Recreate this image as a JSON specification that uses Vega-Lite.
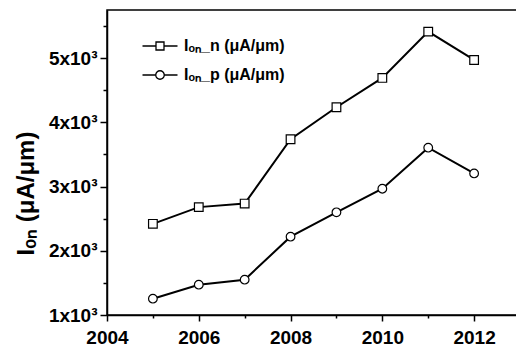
{
  "$schema": "https://vega.github.io/schema/vega-lite/v6.json",
  "width": 413,
  "height": 305,
  "autosize": {"type": "none"},
  "padding": {"left": 107, "top": 10, "right": 0, "bottom": 34},
  "background": "white",
  "config": {
    "font": "Liberation Sans",
    "view": {"stroke": "black", "strokeWidth": 1.5}
  },
  "data": {
    "values": [
      {"year": 2005, "series": "n", "value": 2420},
      {"year": 2006, "series": "n", "value": 2680},
      {"year": 2007, "series": "n", "value": 2735},
      {"year": 2008, "series": "n", "value": 3737},
      {"year": 2009, "series": "n", "value": 4235},
      {"year": 2010, "series": "n", "value": 4692},
      {"year": 2011, "series": "n", "value": 5413},
      {"year": 2012, "series": "n", "value": 4972},
      {"year": 2005, "series": "p", "value": 1254},
      {"year": 2006, "series": "p", "value": 1472},
      {"year": 2007, "series": "p", "value": 1550},
      {"year": 2008, "series": "p", "value": 2220},
      {"year": 2009, "series": "p", "value": 2599},
      {"year": 2010, "series": "p", "value": 2967},
      {"year": 2011, "series": "p", "value": 3606},
      {"year": 2012, "series": "p", "value": 3205}
    ]
  },
  "encoding": {
    "x": {
      "field": "year",
      "type": "quantitative",
      "scale": {"domain": [2004, 2013], "nice": false, "zero": false},
      "axis": {
        "title": null,
        "grid": false,
        "values": [2004, 2005, 2006, 2007, 2008, 2009, 2010, 2011, 2012, 2013],
        "labelExpr": "datum.value % 2 == 0 ? datum.value : ''",
        "labelFlush": false,
        "labelFont": "Liberation Sans",
        "labelFontSize": 19,
        "labelFontWeight": "bold",
        "labelColor": "black",
        "labelPadding": 7,
        "domainColor": "black",
        "domainWidth": 1.5,
        "tickColor": "black",
        "tickWidth": 1.5,
        "tickSize": {"condition": {"test": "datum.value % 2 == 0", "value": 6}, "value": 3}
      }
    },
    "y": {
      "field": "value",
      "type": "quantitative",
      "scale": {"domain": [1000, 5750], "nice": false, "zero": false},
      "axis": {
        "title": "Iₒₙ (μA/μm)",
        "titleFont": "Liberation Sans",
        "titleFontSize": 24,
        "titleFontWeight": "bold",
        "titleColor": "black",
        "titleX": -74,
        "titleY": 183,
        "titleAlign": "center",
        "titleBaseline": "alphabetic",
        "grid": false,
        "values": [1000, 1500, 2000, 2500, 3000, 3500, 4000, 4500, 5000, 5500],
        "labelExpr": "datum.value % 1000 == 0 ? (datum.value / 1000) + 'x10³' : ''",
        "labelFont": "Liberation Sans",
        "labelFontSize": 19,
        "labelFontWeight": "bold",
        "labelColor": "black",
        "labelPadding": 3,
        "domainColor": "black",
        "domainWidth": 1.5,
        "tickColor": "black",
        "tickWidth": 1.5,
        "tickSize": {"condition": {"test": "datum.value % 1000 == 0", "value": 7}, "value": 4}
      }
    }
  },
  "layer": [
    {
      "mark": {"type": "line", "strokeWidth": 2},
      "encoding": {
        "stroke": {
          "field": "series",
          "type": "nominal",
          "scale": {"range": ["black", "black"]},
          "legend": {
            "orient": "none",
            "legendX": 45,
            "legendY": 28,
            "title": null,
            "labelExpr": "datum.value == 'n' ? 'Iₒₙ_n (μA/μm)' : 'Iₒₙ_p (μA/μm)'",
            "labelFont": "Liberation Sans",
            "labelFontSize": 16,
            "labelFontWeight": "bold",
            "labelColor": "black",
            "labelOffset": 16,
            "symbolSize": 100,
            "symbolStrokeWidth": 1.3,
            "symbolStrokeColor": "black",
            "symbolFillColor": "white",
            "rowPadding": 13,
            "encode": {
              "symbols": {
                "update": {
                  "shape": {"signal": "datum.value == 'n' ? 'M-3.5,0H-0.8M0.8,0H3.5M-0.8,-0.8H0.8V0.8H-0.8Z' : 'M-3.5,0H-0.85M0.85,0H3.5M0.85,0A0.85,0.85 0 1,1 -0.85,0A0.85,0.85 0 1,1 0.85,0Z'"},
                  "fill": {"value": "white"},
                  "stroke": {"value": "black"},
                  "strokeWidth": {"value": 1.3}
                }
              }
            }
          }
        }
      }
    },
    {
      "mark": {"type": "point", "filled": false, "fill": "white", "fillOpacity": 1, "stroke": "black", "strokeWidth": 1.2, "size": 75, "opacity": 1},
      "encoding": {
        "shape": {
          "field": "series",
          "type": "nominal",
          "scale": {"range": ["square", "circle"]},
          "legend": null
        }
      }
    }
  ]
}
